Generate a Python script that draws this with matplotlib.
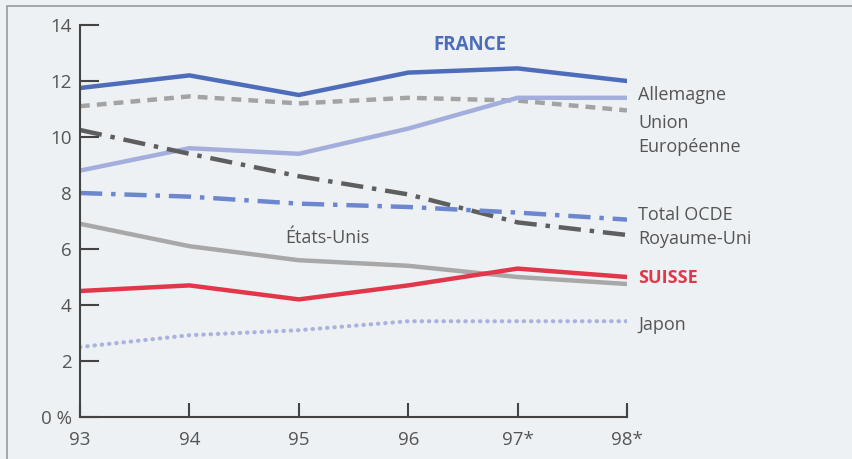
import matplotlib
matplotlib.use("Agg")
import matplotlib.pyplot as plt
from matplotlib.patches import Rectangle

years = ["93", "94", "95", "96", "97*", "98*"]
france = [11.75, 12.2, 11.5, 12.3, 12.45, 12.0]
allemagne = [8.8, 9.6, 9.4, 10.3, 11.4, 11.4]
union_eu = [11.1, 11.45, 11.2, 11.4, 11.3, 10.95]
royaume_uni = [10.25, 9.4, 8.6, 7.95, 6.95, 6.5]
total_ocde = [8.0, 7.87, 7.62, 7.5, 7.3, 7.05]
etats_unis = [6.9, 6.1, 5.6, 5.4, 5.0, 4.75]
suisse = [4.5, 4.7, 4.2, 4.7, 5.3, 5.0]
japon = [2.5, 2.92, 3.1, 3.42, 3.42, 3.42]

BG = "#edf1f4"
TXT = "#555555"
plt.rcParams["font.family"] = ["Open Sans", "DejaVu Sans"]

fig = plt.figure(figsize=(8.53, 4.59), dpi=100)
fig.patch.set_facecolor(BG)
# scanned-page frame on the left and top
fig.add_artist(Rectangle((7 / 853, -0.1), 1.2, (459 - 6) / 459 + 0.1,
                         transform=fig.transFigure, fill=False,
                         edgecolor="#9a9a9a", linewidth=1.2))

ax = fig.add_axes([80 / 853, (459 - 417) / 459, (627 - 80) / 853, (417 - 25) / 459])
ax.set_facecolor(BG)
x = list(range(len(years)))

ax.plot(x, union_eu, color="#a3a3a3", lw=3.2, dashes=(2.2, 1.6), solid_capstyle="butt")
ax.plot(x, etats_unis, color="#a8a8a8", lw=3.2)
ax.plot(x, allemagne, color="#a4aedd", lw=3.2)
ax.plot(x, royaume_uni, color="#5e5e5e", lw=3.2, dashes=(5, 2, 1, 2))
ax.plot(x, total_ocde, color="#6d86d0", lw=3.2, dashes=(5, 2, 1, 2))
ax.plot(x, japon, color="#aab2de", lw=3.0, dashes=(0.1, 1.65), dash_capstyle="round")
ax.plot(x, france, color="#4d6cba", lw=3.2)
ax.plot(x, suisse, color="#e2364b", lw=3.2)

ax.set_xlim(0, 5)
ax.set_ylim(0, 14)
ax.set_xticks(x)
ax.set_xticklabels(years)
ax.set_yticks([0, 2, 4, 6, 8, 10, 12, 14])
ax.set_yticklabels(["0 %", "2", "4", "6", "8", "10", "12", "14"])
ax.tick_params(axis="y", direction="in", length=14, width=1.5, color="#444444",
               labelsize=13.5, labelcolor=TXT, pad=6)
ax.tick_params(axis="x", direction="in", length=10, width=1.5, color="#444444",
               labelsize=13.5, labelcolor=TXT, pad=10)
for s in ["top", "right"]:
    ax.spines[s].set_visible(False)
for s in ["left", "bottom"]:
    ax.spines[s].set_color("#444444")
    ax.spines[s].set_linewidth(1.5)
# closing tick at the right end of the x axis
ax.plot([5, 5], [0, 0.36], color="#444444", lw=1.5, clip_on=False)

lab = dict(fontsize=13, color=TXT, va="center", ha="left")
ax.text(3.56, 13.27, "FRANCE", fontsize=13.5, color="#4d6cba", fontweight="bold",
        ha="center", va="center")
ax.text(5.1, 11.5, "Allemagne", **lab)
ax.text(5.1, 10.5, "Union", **lab)
ax.text(5.1, 9.65, "Européenne", **lab)
ax.text(5.1, 7.2, "Total OCDE", **lab)
ax.text(5.1, 6.35, "Royaume-Uni", **lab)
ax.text(5.1, 4.95, "SUISSE", fontsize=13, color="#e2364b", fontweight="bold",
        va="center", ha="left")
ax.text(5.1, 3.3, "Japon", **lab)
ax.text(1.88, 6.4, "États-Unis", **lab)

fig.savefig("out.png", dpi=100, facecolor=BG)
